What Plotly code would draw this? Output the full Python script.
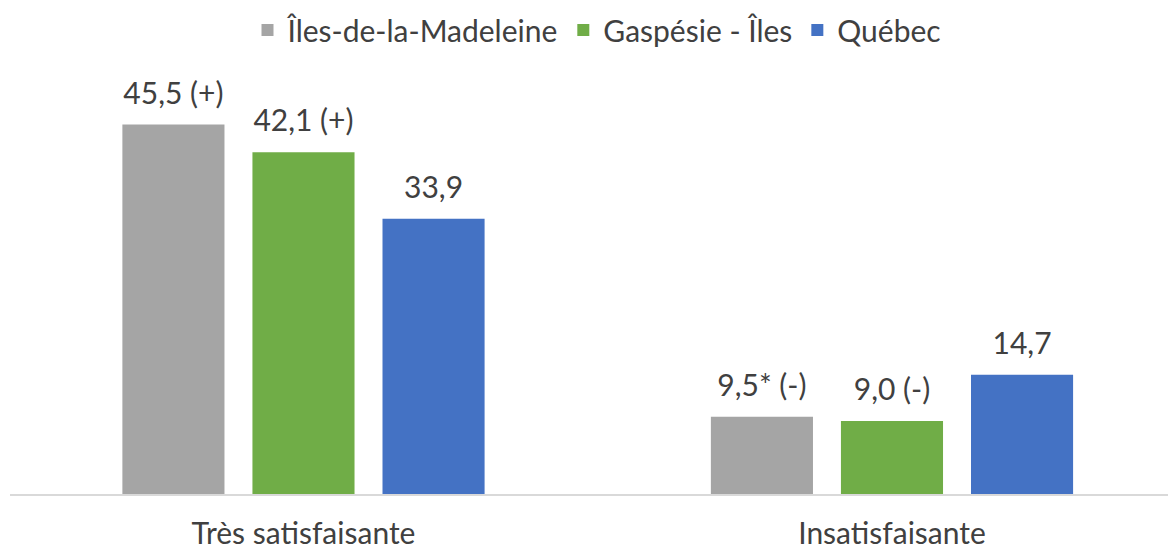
import plotly.graph_objects as go

categories = ["Très satisfaisante", "Insatisfaisante"]
series_names = ["Îles-de-la-Madeleine", "Gaspésie - Îles", "Québec"]
madeleine = [45.5, 9.5]
gaspesie = [42.1, 9.0]
quebec = [33.9, 14.7]
madeleine_labels = ["45,5 (+)", "9,5* (-)"]
gaspesie_labels = ["42,1 (+)", "9,0 (-)"]
quebec_labels = ["33,9", "14,7"]
colors = ["#A5A5A5", "#70AD47", "#4472C4"]

FONT = "Lato, Carlito, Calibri, sans-serif"
TXT = "#404040"
FS = 30

fig = go.Figure()
for name, vals, col in zip(series_names, [madeleine, gaspesie, quebec], colors):
    fig.add_trace(go.Bar(
        name=name, x=categories, y=vals,
        marker=dict(color=col, line=dict(width=0)),
        offsetgroup=name, alignmentgroup="bars",
        hoverinfo="skip",
    ))
for name, vals, labs in zip(series_names, [madeleine, gaspesie, quebec],
                            [madeleine_labels, gaspesie_labels, quebec_labels]):
    fig.add_trace(go.Scatter(
        x=categories, y=vals, text=labs, mode="markers+text",
        textposition="top center",
        marker=dict(size=20, opacity=0),
        textfont=dict(family=FONT, size=FS, color=TXT),
        offsetgroup=name, alignmentgroup="labels",
        showlegend=False, cliponaxis=False, hoverinfo="skip",
    ))

fig.update_layout(
    width=1176, height=549,
    margin=dict(l=2, r=0, t=80, b=63, autoexpand=False),
    paper_bgcolor="white", plot_bgcolor="white",
    barmode="group", bargap=0.337, bargroupgap=0.215,
    scattermode="group", scattergap=0.337,
    font=dict(family=FONT, size=FS, color=TXT),
    legend=dict(orientation="h", x=0.5, xanchor="center", y=1.143, yref="paper",
                yanchor="middle", font=dict(family=FONT, size=FS, color=TXT),
                itemwidth=30, traceorder="normal"),
    showlegend=True,
)
fig.update_xaxes(showline=True, linecolor="#D9D9D9", linewidth=2, ticks="",
                 range=[-0.4987, 1.4962], ticklabelstandoff=12,
                 tickfont=dict(family=FONT, size=FS, color=TXT), showgrid=False)
fig.update_yaxes(range=[0, 50], visible=False, showgrid=False)

fig.write_html("out.html")
